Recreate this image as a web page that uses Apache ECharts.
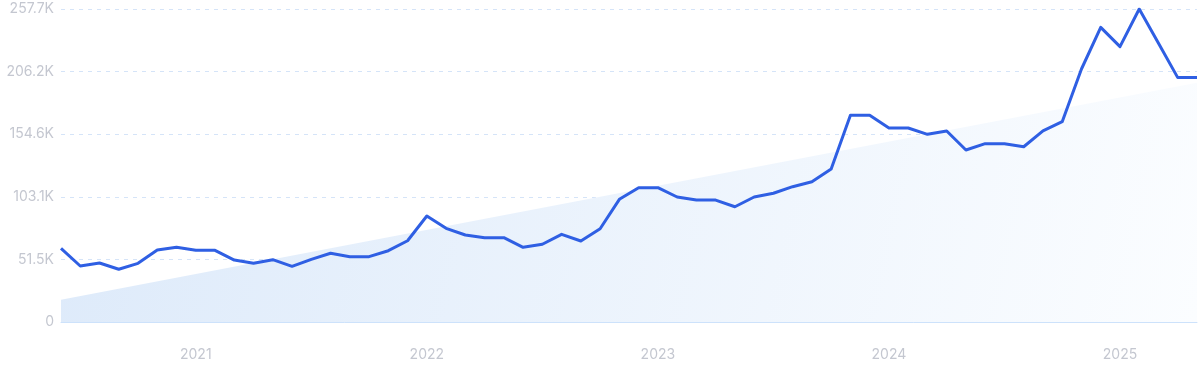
<!DOCTYPE html>
<html>
<head>
<meta charset="utf-8">
<script src="https://cdn.jsdelivr.net/npm/echarts@6/dist/echarts.min.js"></script>
<style>
html, body { margin: 0; padding: 0; background: #fff; }
#main { width: 1200px; height: 371px; }
</style>
</head>
<body>
<div id="main"></div>
<script>
// monthly volume, Jun 2020 .. May 2025 (thousands)
var startYear = 2020, startMonth = 6;
var volumes = [
    60.7, 46.1, 48.6, 43.4, 48.3, 59.3, 61.5, 59.0, 59.0, 51.0,
    48.3, 51.3, 45.8, 51.6, 56.6, 53.8, 53.8, 58.7, 66.9, 87.3,
    77.1, 71.6, 69.4, 69.4, 61.5, 64.0, 72.2, 66.7, 76.8, 101.0,
    110.6, 110.6, 102.9, 100.4, 100.4, 94.9, 102.9, 106.0, 111.4, 115.5,
    126.0, 170.2, 170.2, 159.7, 159.7, 154.5, 157.3, 141.6, 146.8, 146.8,
    144.3, 157.3, 164.9, 208.3, 242.6, 226.7, 257.7, 229.5, 201.2, 201.2
];
// trend line ends (thousands)
var trendStart = 18.4;
var trendEnd = 197.0;
var yMax = 257.7;
var yStep = 51.54;

var months = [];
for (var i = 0; i < volumes.length; i++) {
    var m = startMonth - 1 + i;
    var y = startYear + Math.floor(m / 12);
    var mm = (m % 12) + 1;
    months.push(y + '-' + (mm < 10 ? '0' + mm : mm));
}

var dom = document.getElementById('main');
var myChart = echarts.init(dom);
var option = {
    animation: false,
    textStyle: { fontFamily: 'Inter, "Noto Sans", sans-serif' },
    grid: { left: 61, right: 3, top: 9, bottom: 49 },
    xAxis: {
        type: 'category',
        data: months,
        boundaryGap: false,
        axisLine: { show: true, lineStyle: { color: '#cde2fb', width: 1 } },
        axisTick: { show: false },
        splitLine: { show: false },
        axisLabel: {
            color: '#c4c7d0',
            fontSize: 14,
            margin: 26,
            interval: function (idx, val) { return val.slice(5) === '01'; },
            formatter: function (val) { return val.slice(0, 4); }
        }
    },
    yAxis: {
        type: 'value',
        min: 0,
        max: yMax,
        interval: yStep,
        axisLine: { show: false },
        axisTick: { show: false },
        axisLabel: {
            color: '#c4c7d0',
            fontSize: 14,
            margin: 7,
            formatter: function (v) { return v === 0 ? '0' : v.toFixed(1) + 'K'; }
        },
        splitLine: {
            show: true,
            lineStyle: { color: '#d5e4f8', type: [4, 5], width: 1 }
        }
    },
    series: [
        {
            name: 'trend',
            type: 'line',
            data: [[0, trendStart], [volumes.length - 1, trendEnd]],
            symbol: 'none',
            silent: true,
            lineStyle: { width: 0 },
            areaStyle: {
                opacity: 1,
                color: new echarts.graphic.LinearGradient(0, 0, 1, 1, [
                    { offset: 0, color: '#ddeafa' },
                    { offset: 1, color: '#fbfdff' }
                ])
            },
            z: 1
        },
        {
            name: 'volume',
            type: 'line',
            data: volumes,
            symbol: 'none',
            lineStyle: { color: '#2f5fe3', width: 3, join: 'round' },
            z: 3
        }
    ]
};
if (option && typeof option === 'object') {
    myChart.setOption(option);
}
</script>
</body>
</html>
